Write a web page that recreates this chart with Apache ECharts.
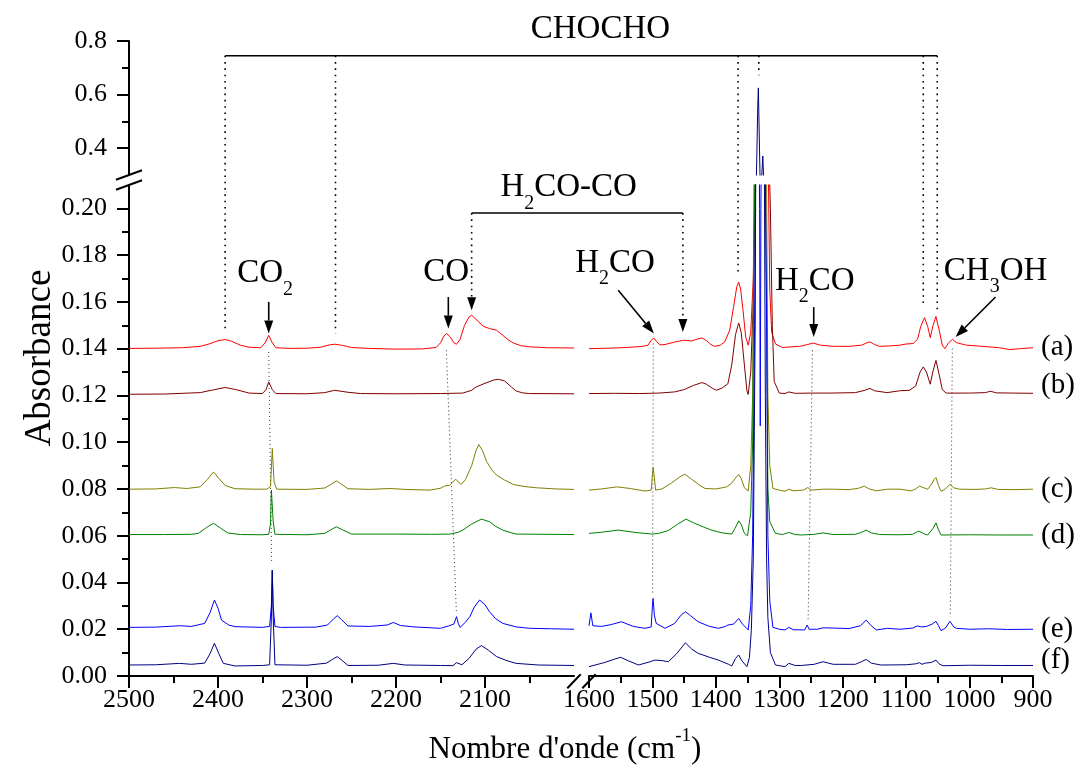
<!DOCTYPE html>
<html><head><meta charset="utf-8">
<script src="https://cdn.jsdelivr.net/npm/echarts@6/dist/echarts.min.js"></script>
<style>html,body{margin:0;padding:0;background:#fff}#c{width:1082px;height:778px}</style>
</head><body><div id="c"></div>
<script>
// ---------- tick values ----------
const xTicksHigh = [2500, 2400, 2300, 2200, 2100];
const xMinorHigh = [2450, 2350, 2250, 2150, 2050];
const xTicksLow = [1600, 1500, 1400, 1300, 1200, 1100, 1000, 900];
const xMinorLow = [1550, 1450, 1350, 1250, 1150, 1050, 950];
const yTicksBottom = [0, 0.02, 0.04, 0.06, 0.08, 0.10, 0.12, 0.14, 0.16, 0.18, 0.20];
const yMinorBottom = [0.01, 0.03, 0.05, 0.07, 0.09, 0.11, 0.13, 0.15, 0.17, 0.19];
const yTicksTop = [0.4, 0.6, 0.8];
const yMinorTop = [0.5, 0.7];

// ---------- samples ----------
const sampleLabels = ['(a)', '(b)', '(c)', '(d)', '(e)', '(f)'];
const sampleColors = ['#ff0000', '#800000', '#808000', '#008000', '#0000ff', '#000080'];
const sampleLabelValues = [0.1406, 0.1244, 0.0799, 0.0603, 0.0201, 0.0068];

// ---------- spectra: [wavenumber, absorbance] ----------
const specA_high = [[2500,0.1401],[2470,0.1402],[2440,0.1404],[2420,0.1410],[2410,0.1420],[2400,0.1434],[2392,0.1439],[2385,0.1432],[2375,0.1415],[2365,0.1406],[2352,0.1404],[2347,0.1425],[2343,0.1457],[2339,0.1425],[2335,0.1404],[2320,0.1401],[2300,0.1402],[2285,0.1406],[2275,0.1416],[2269,0.1419],[2260,0.1414],[2250,0.1405],[2230,0.1401],[2200,0.1398],[2170,0.1399],[2155,0.1405],[2150,0.1425],[2146,0.1455],[2143,0.1465],[2139,0.1450],[2135,0.1425],[2132,0.1419],[2128,0.1440],[2123,0.1500],[2118,0.1535],[2115,0.1543],[2110,0.1525],[2102,0.1496],[2095,0.1486],[2087,0.1479],[2080,0.1457],[2074,0.1438],[2068,0.1424],[2060,0.1413],[2050,0.1408],[2030,0.1404],[2000,0.1403]];
const specA_low = [[1600,0.1400],[1570,0.1402],[1540,0.1405],[1515,0.1410],[1507,0.1415],[1502,0.1435],[1498,0.1446],[1494,0.1432],[1488,0.1416],[1480,0.1418],[1465,0.1428],[1451,0.1436],[1438,0.1433],[1428,0.1442],[1422,0.1446],[1415,0.1435],[1408,0.1418],[1402,0.1410],[1393,0.1415],[1386,0.1429],[1378,0.1480],[1372,0.1580],[1367,0.1665],[1364,0.1685],[1361,0.1655],[1357,0.1560],[1353,0.1450],[1349,0.1415],[1345,0.1470],[1341,0.1700],[1338,0.2100],[1335,0.2600],[1330,0.2800],[1325,0.2800],[1320,0.2500],[1317,0.2100],[1315,0.1650],[1312,0.1470],[1306,0.1420],[1295,0.1405],[1280,0.1408],[1268,0.1410],[1255,0.1418],[1247,0.1424],[1235,0.1415],[1215,0.1410],[1190,0.1410],[1170,0.1415],[1162,0.1425],[1157,0.1429],[1150,0.1418],[1142,0.1410],[1125,0.1412],[1110,0.1415],[1100,0.1420],[1089,0.1422],[1082,0.1440],[1077,0.1495],[1071,0.1533],[1066,0.1495],[1062,0.1447],[1058,0.1495],[1053,0.1538],[1048,0.1480],[1043,0.1415],[1039,0.1400],[1033,0.1425],[1027,0.1440],[1020,0.1425],[1005,0.1415],[980,0.1410],[953,0.1404],[937,0.1396],[920,0.1400],[900,0.1404]];

const specB_high = [[2500,0.1205],[2460,0.1206],[2420,0.1212],[2405,0.1224],[2392,0.1234],[2380,0.1225],[2365,0.1210],[2350,0.1208],[2346,0.1225],[2343,0.1258],[2339,0.1225],[2335,0.1208],[2300,0.1207],[2280,0.1212],[2269,0.1222],[2255,0.1214],[2240,0.1208],[2200,0.1207],[2150,0.1208],[2125,0.1210],[2115,0.1222],[2110,0.1236],[2100,0.1252],[2090,0.1266],[2085,0.1269],[2078,0.1262],[2070,0.1235],[2065,0.1219],[2058,0.1211],[2050,0.1208],[2000,0.1207]];
const specB_low = [[1600,0.1208],[1560,0.1209],[1520,0.1208],[1490,0.1210],[1465,0.1215],[1450,0.1225],[1435,0.1243],[1422,0.1255],[1415,0.1248],[1405,0.1230],[1399,0.1222],[1390,0.1232],[1381,0.1250],[1375,0.1330],[1369,0.1460],[1364,0.1510],[1360,0.1470],[1355,0.1330],[1351,0.1220],[1349,0.1204],[1345,0.1300],[1341,0.1600],[1338,0.2100],[1335,0.2700],[1325,0.2800],[1318,0.2400],[1314,0.2000],[1311,0.1500],[1308,0.1260],[1300,0.1210],[1291,0.1208],[1285,0.1215],[1275,0.1209],[1250,0.1210],[1220,0.1210],[1180,0.1212],[1165,0.1222],[1157,0.1230],[1150,0.1220],[1130,0.1212],[1110,0.1220],[1095,0.1222],[1085,0.1240],[1078,0.1300],[1073,0.1322],[1068,0.1300],[1062,0.1248],[1058,0.1300],[1053,0.1350],[1048,0.1290],[1043,0.1225],[1037,0.1210],[1000,0.1210],[975,0.1212],[967,0.1218],[958,0.1211],[930,0.1210],[900,0.1209]];

const specC_high = [[2500,0.0799],[2470,0.0800],[2449,0.0806],[2435,0.0802],[2420,0.0809],[2412,0.0840],[2405,0.0873],[2399,0.0845],[2392,0.0815],[2381,0.0801],[2360,0.0799],[2345,0.0799],[2341,0.0810],[2339,0.0973],[2337,0.0830],[2334,0.0799],[2300,0.0798],[2280,0.0804],[2272,0.0822],[2267,0.0835],[2262,0.0822],[2254,0.0801],[2230,0.0798],[2207,0.0802],[2190,0.0798],[2162,0.0795],[2150,0.0803],[2145,0.0813],[2140,0.0815],[2133,0.0842],[2127,0.0819],[2122,0.0840],[2115,0.0900],[2110,0.0965],[2107,0.0990],[2103,0.0965],[2098,0.0916],[2092,0.0880],[2087,0.0859],[2078,0.0838],[2068,0.0819],[2055,0.0810],[2042,0.0805],[2020,0.0800],[2000,0.0798]];
const specC_low = [[1600,0.0795],[1580,0.0800],[1556,0.0809],[1535,0.0802],[1512,0.0791],[1502,0.0795],[1500,0.0860],[1499,0.0892],[1497,0.0850],[1495,0.0795],[1485,0.0800],[1470,0.0825],[1455,0.0855],[1449,0.0863],[1440,0.0845],[1425,0.0815],[1417,0.0802],[1400,0.0800],[1390,0.0805],[1383,0.0809],[1375,0.0825],[1368,0.0850],[1364,0.0862],[1360,0.0845],[1355,0.0805],[1349,0.0791],[1345,0.0900],[1342,0.1200],[1340,0.2100],[1336,0.2700],[1330,0.2800],[1324,0.2500],[1320,0.2100],[1318,0.1200],[1315,0.0900],[1310,0.0802],[1300,0.0795],[1291,0.0790],[1285,0.0799],[1278,0.0792],[1262,0.0795],[1255,0.0806],[1250,0.0795],[1230,0.0799],[1215,0.0799],[1190,0.0797],[1175,0.0803],[1166,0.0812],[1158,0.0800],[1147,0.0792],[1129,0.0799],[1110,0.0799],[1092,0.0792],[1085,0.0800],[1079,0.0812],[1072,0.0805],[1066,0.0799],[1060,0.0820],[1056,0.0840],[1053,0.0849],[1049,0.0815],[1045,0.0790],[1038,0.0800],[1031,0.0820],[1025,0.0805],[1016,0.0799],[990,0.0798],[975,0.0800],[966,0.0805],[955,0.0798],[930,0.0797],[900,0.0799]];

const specD_high = [[2500,0.0605],[2460,0.0605],[2430,0.0606],[2422,0.0610],[2413,0.0635],[2405,0.0653],[2397,0.0632],[2389,0.0612],[2375,0.0605],[2350,0.0604],[2343,0.0606],[2341,0.0650],[2340,0.0795],[2338,0.0660],[2336,0.0606],[2300,0.0604],[2280,0.0610],[2272,0.0628],[2267,0.0638],[2260,0.0625],[2250,0.0607],[2200,0.0607],[2160,0.0606],[2139,0.0607],[2130,0.0615],[2125,0.0624],[2115,0.0650],[2104,0.0671],[2095,0.0660],[2088,0.0640],[2080,0.0624],[2070,0.0612],[2065,0.0607],[2000,0.0605]];
const specD_low = [[1600,0.0610],[1580,0.0615],[1554,0.0624],[1530,0.0615],[1501,0.0607],[1490,0.0610],[1475,0.0622],[1460,0.0650],[1447,0.0671],[1435,0.0655],[1420,0.0638],[1407,0.0624],[1390,0.0612],[1375,0.0607],[1370,0.0630],[1364,0.0664],[1360,0.0648],[1355,0.0610],[1350,0.0600],[1345,0.0700],[1342,0.1000],[1340,0.1800],[1337,0.2500],[1330,0.2700],[1323,0.2300],[1320,0.1600],[1318,0.0800],[1315,0.0660],[1306,0.0610],[1295,0.0605],[1285,0.0614],[1275,0.0605],[1265,0.0603],[1245,0.0606],[1231,0.0612],[1215,0.0605],[1180,0.0606],[1170,0.0615],[1163,0.0624],[1155,0.0612],[1142,0.0605],[1110,0.0604],[1090,0.0606],[1080,0.0620],[1070,0.0606],[1066,0.0603],[1058,0.0630],[1053,0.0655],[1049,0.0625],[1045,0.0603],[1000,0.0604],[950,0.0603],[900,0.0603]];

const specE_high = [[2500,0.0208],[2470,0.0209],[2443,0.0215],[2430,0.0212],[2415,0.0225],[2409,0.0270],[2404,0.0325],[2400,0.0290],[2396,0.0239],[2388,0.0218],[2381,0.0211],[2350,0.0208],[2342,0.0212],[2340,0.0300],[2339,0.0450],[2338,0.0300],[2336,0.0212],[2330,0.0208],[2290,0.0209],[2277,0.0218],[2270,0.0245],[2266,0.0258],[2261,0.0240],[2254,0.0214],[2230,0.0212],[2210,0.0218],[2203,0.0229],[2195,0.0216],[2180,0.0210],[2150,0.0204],[2141,0.0214],[2135,0.0222],[2132,0.0254],[2130,0.0225],[2128,0.0208],[2122,0.0230],[2117,0.0254],[2112,0.0295],[2106,0.0325],[2100,0.0305],[2095,0.0275],[2088,0.0245],[2080,0.0225],[2065,0.0210],[2050,0.0204],[2025,0.0202],[2000,0.0200]];
const specE_low = [[1600,0.0215],[1597,0.0270],[1594,0.0215],[1580,0.0212],[1565,0.0220],[1549,0.0232],[1530,0.0212],[1512,0.0204],[1502,0.0210],[1500,0.0300],[1499,0.0332],[1497,0.0260],[1494,0.0225],[1480,0.0204],[1465,0.0225],[1455,0.0260],[1448,0.0275],[1440,0.0258],[1428,0.0232],[1410,0.0212],[1396,0.0204],[1385,0.0212],[1381,0.0218],[1372,0.0222],[1364,0.0246],[1358,0.0222],[1349,0.0197],[1345,0.0300],[1342,0.0600],[1339,0.1500],[1336,0.2600],[1333,0.2800],[1331,0.2000],[1330,0.1070],[1329,0.2000],[1327,0.2800],[1323,0.2500],[1320,0.1500],[1318,0.0600],[1315,0.0320],[1310,0.0208],[1300,0.0200],[1291,0.0197],[1285,0.0208],[1278,0.0198],[1260,0.0197],[1256,0.0218],[1253,0.0200],[1240,0.0200],[1231,0.0206],[1215,0.0205],[1190,0.0203],[1172,0.0215],[1163,0.0239],[1155,0.0215],[1147,0.0197],[1129,0.0204],[1110,0.0200],[1090,0.0205],[1082,0.0214],[1076,0.0210],[1068,0.0212],[1059,0.0222],[1053,0.0234],[1049,0.0215],[1045,0.0194],[1038,0.0205],[1031,0.0234],[1025,0.0210],[1021,0.0204],[1000,0.0200],[970,0.0202],[940,0.0199],[900,0.0200]];

const specF_high = [[2500,0.0047],[2470,0.0048],[2443,0.0054],[2430,0.0050],[2415,0.0055],[2409,0.0095],[2404,0.0140],[2399,0.0095],[2394,0.0054],[2381,0.0043],[2350,0.0045],[2342,0.0048],[2340,0.0250],[2339,0.0453],[2338,0.0250],[2336,0.0048],[2300,0.0046],[2278,0.0055],[2271,0.0072],[2266,0.0083],[2260,0.0065],[2254,0.0045],[2220,0.0046],[2203,0.0054],[2190,0.0047],[2150,0.0045],[2136,0.0044],[2132,0.0057],[2126,0.0048],[2118,0.0075],[2110,0.0115],[2104,0.0130],[2096,0.0110],[2087,0.0083],[2075,0.0065],[2065,0.0054],[2040,0.0047],[2000,0.0045]];
const specF_low = [[1600,0.0040],[1575,0.0058],[1560,0.0072],[1550,0.0080],[1538,0.0065],[1522,0.0047],[1505,0.0060],[1496,0.0068],[1485,0.0066],[1475,0.0061],[1462,0.0095],[1448,0.0142],[1438,0.0115],[1428,0.0097],[1410,0.0080],[1396,0.0068],[1380,0.0050],[1375,0.0043],[1369,0.0075],[1364,0.0090],[1359,0.0065],[1351,0.0040],[1347,0.0080],[1344,0.0200],[1341,0.0500],[1338,0.1500],[1336,0.3000],[1334,0.5500],[1333,0.6250],[1332,0.5000],[1330,0.2500],[1328,0.2800],[1326,0.3710],[1324,0.2500],[1322,0.1200],[1320,0.0500],[1318,0.0250],[1314,0.0100],[1306,0.0047],[1291,0.0040],[1285,0.0054],[1275,0.0045],[1265,0.0045],[1245,0.0050],[1231,0.0061],[1215,0.0050],[1180,0.0050],[1170,0.0062],[1163,0.0071],[1155,0.0055],[1140,0.0047],[1100,0.0048],[1085,0.0052],[1079,0.0057],[1075,0.0050],[1070,0.0055],[1060,0.0058],[1053,0.0068],[1048,0.0052],[1042,0.0044],[1000,0.0046],[950,0.0045],[900,0.0045]];

const spectraHigh = [specA_high, specB_high, specC_high, specD_high, specE_high, specF_high];
const spectraLow = [specA_low, specB_low, specC_low, specD_low, specE_low, specF_low];

// ---------- annotation anchors (data units) ----------
const chochoLevel = 0.745;
const chochoText = ['CHOCHO', 1582, 0.845];
const chochoMarks = [['hi', 2392, 'B', 0.1471], ['hi', 2268, 'B', 0.1466], ['lo', 1365, 'B', 0.1714], ['lo', 1332.3, 'T', 0.672], ['lo', 1073, 'B', 0.1578], ['lo', 1051, 'B', 0.1567]];
const h2coCoLevel = 0.198;
const h2coCoMarks = [['hi', 2115, 0.1620, 0.1564], ['lo', 1452, 0.1520, 0.1471]];
const arrows = [
  ['hi', 2343, 0.1600, 2343, 0.1465],
  ['hi', 2141.2, 0.1621, 2141.2, 0.1486],
  ['lo', 1553.9, 0.1650, 1497.6, 0.1465],
  ['lo', 1245.7, 0.1578, 1245.7, 0.1450],
  ['lo', 959, 0.1621, 1022, 0.1450]
];
const guides = [
  ['hi', 2343, 0.1386, 2339.7, 0.0482],
  ['hi', 2143.4, 0.1393, 2132.1, 0.0265],
  ['lo', 1498.7, 0.1422, 1499.7, 0.0353],
  ['lo', 1247.7, 0.1393, 1254.6, 0.0235],
  ['lo', 1027.2, 0.1400, 1030.4, 0.0253]
];
const annotTexts = [
  ['hi', 2347, 0.1722, '{m|CO}{s|2}'],
  ['hi', 2143.7, 0.1728, '{m|CO}'],
  ['hi', 2006, 0.2090, '{m|H}{s|2}{m|CO-CO}'],
  ['lo', 1559, 0.1767, '{m|H}{s|2}{m|CO}'],
  ['lo', 1244, 0.1690, '{m|H}{s|2}{m|CO}'],
  ['lo', 959, 0.1732, '{m|CH}{s|3}{m|OH}']
];

const serif = '"Liberation Serif","DejaVu Serif",serif';
const chart = echarts.init(document.getElementById('c'));

function xMain(gi, min, max, ticks) {
  return {type: 'value', gridIndex: gi, min, max, inverse: true, position: 'bottom',
    axisLine: {show: true, onZero: false, lineStyle: {color: '#000', width: 2}},
    axisTick: {show: true, inside: false, length: 12, customValues: ticks, lineStyle: {color: '#000', width: 2}},
    axisLabel: {show: true, customValues: ticks, margin: 11, color: '#000', fontFamily: serif, fontSize: 26,
      formatter: v => String(v)},
    splitLine: {show: false}};
}
function xMinor(gi, min, max, ticks) {
  return {type: 'value', gridIndex: gi, min, max, inverse: true, position: 'bottom',
    axisLine: {show: false, onZero: false},
    axisTick: {show: true, inside: false, length: 7, customValues: ticks, lineStyle: {color: '#000', width: 2}},
    axisLabel: {show: false}, splitLine: {show: false}};
}
function yMain(gi, min, max, ticks, dec) {
  return {type: 'value', gridIndex: gi, min, max, position: 'left',
    axisLine: {show: true, onZero: false, lineStyle: {color: '#000', width: 2}},
    axisTick: {show: true, inside: false, length: 12, customValues: ticks, lineStyle: {color: '#000', width: 2}},
    axisLabel: {show: true, customValues: ticks, margin: 22, color: '#000', fontFamily: serif, fontSize: 26,
      formatter: v => Number(v).toFixed(dec)},
    splitLine: {show: false}};
}
function yMinor(gi, min, max, ticks) {
  return {type: 'value', gridIndex: gi, min, max, position: 'left',
    axisLine: {show: false, onZero: false},
    axisTick: {show: true, inside: false, length: 7, customValues: ticks, lineStyle: {color: '#000', width: 2}},
    axisLabel: {show: false}, splitLine: {show: false}};
}
function hidden(gi, min, max, inv) {
  return {type: 'value', gridIndex: gi, min, max, inverse: !!inv, show: false, splitLine: {show: false}};
}

const series = [];
spectraHigh.forEach((d, i) => {
  series.push({type: 'line', data: d, xAxisIndex: 0, yAxisIndex: 0});
  series.push({type: 'line', data: d, xAxisIndex: 4, yAxisIndex: 3});
  series.push({type: 'line', data: spectraLow[i], xAxisIndex: 2, yAxisIndex: 2});
  series.push({type: 'line', data: spectraLow[i], xAxisIndex: 5, yAxisIndex: 5});
});
series.forEach((s, k) => {
  const i = Math.floor(k / 4);
  Object.assign(s, {showSymbol: false, symbol: 'none', clip: true, silent: true,
    lineStyle: {color: sampleColors[i], width: 1}, itemStyle: {color: sampleColors[i]}});
});

chart.setOption({
  animation: false,
  backgroundColor: '#fff',
  grid: [
    {left: 129, top: 185, width: 445, height: 491},
    {left: 589, top: 185, width: 444, height: 491},
    {left: 129, top: 41, width: 445, height: 134},
    {left: 589, top: 41, width: 444, height: 134}
  ],
  xAxis: [
    xMain(0, 2000, 2500, xTicksHigh), xMinor(0, 2000, 2500, xMinorHigh),
    xMain(1, 900, 1600, xTicksLow), xMinor(1, 900, 1600, xMinorLow),
    hidden(2, 2000, 2500, true), hidden(3, 900, 1600, true)
  ],
  yAxis: [
    yMain(0, 0, 0.21, yTicksBottom, 2), yMinor(0, 0, 0.21, yMinorBottom),
    hidden(1, 0, 0.21),
    yMain(2, 0.3, 0.8, yTicksTop, 1), yMinor(2, 0.3, 0.8, yMinorTop),
    hidden(3, 0.3, 0.8)
  ],
  series
});

// ---------- annotations placed through the axes ----------
const F = {hiB: {xAxisIndex: 0, yAxisIndex: 0}, loB: {xAxisIndex: 2, yAxisIndex: 2},
           hiT: {xAxisIndex: 4, yAxisIndex: 3}, loT: {xAxisIndex: 5, yAxisIndex: 5}};
const P = (seg, panel, wn, v) => chart.convertToPixel(F[seg + panel], [wn, v]);
const g = [];
const line = (a, b, w, dash, color) => g.push({type: 'line', silent: true,
  shape: {x1: a[0], y1: a[1], x2: b[0], y2: b[1]},
  style: {stroke: color || '#000', lineWidth: w, lineDash: dash || null}});
const head = (tip, from, len, half) => {
  const dx = tip[0] - from[0], dy = tip[1] - from[1], L = Math.hypot(dx, dy);
  const ux = dx / L, uy = dy / L;
  const bx = tip[0] - ux * len, by = tip[1] - uy * len;
  g.push({type: 'polygon', silent: true, shape: {points: [tip, [bx - uy * half, by + ux * half], [bx + uy * half, by - ux * half]]}, style: {fill: '#000'}});
  return [bx, by];
};
const richStyle = {
  m: {fontSize: 33, fontFamily: serif, lineHeight: 52},
  s: {fontSize: 20, fontFamily: serif, lineHeight: 52, verticalAlign: 'bottom'}
};
const text = (pt, str) => g.push({type: 'text', silent: true, x: pt[0], y: pt[1],
  style: {text: str, fill: '#000', align: 'center', verticalAlign: 'middle', fontFamily: serif, fontSize: 33, rich: richStyle}});

const dotDash = [1.6, 4.7];
const cL = P(chochoMarks[0][0], 'T', chochoMarks[0][1], chochoLevel);
const cR = P(chochoMarks[5][0], 'T', chochoMarks[5][1], chochoLevel);
line(cL, cR, 1.5);
chochoMarks.forEach(m => {
  const top = P(m[0], 'T', m[1], chochoLevel);
  const bot = P(m[0], m[2], m[1], m[3]);
  line(top, bot, 1.6, dotDash);
});
text(P('lo', 'T', chochoText[1], chochoText[2]), '{m|' + chochoText[0] + '}');

const hL = P(h2coCoMarks[0][0], 'B', h2coCoMarks[0][1], h2coCoLevel);
const hR = P(h2coCoMarks[1][0], 'B', h2coCoMarks[1][1], h2coCoLevel);
line(hL, hR, 1.5);
h2coCoMarks.forEach(m => {
  const top = P(m[0], 'B', m[1], h2coCoLevel);
  const tip = P(m[0], 'B', m[1], m[3]);
  const base = head(tip, top, 13, 4.5);
  line(top, base, 1.6, dotDash);
});

arrows.forEach(a => {
  const s = P(a[0], 'B', a[1], a[2]);
  const t = P(a[0], 'B', a[3], a[4]);
  const base = head(t, s, 13, 4.5);
  line(s, base, 1.6);
});

guides.forEach(d => line(P(d[0], 'B', d[1], d[2]), P(d[0], 'B', d[3], d[4]), 1, [1, 3], '#333'));

annotTexts.forEach(t => text(P(t[0], 'B', t[1], t[2]), t[3]));

sampleLabels.forEach((lab, i) => {
  const p = P('lo', 'B', 900, sampleLabelValues[i]);
  g.push({type: 'text', silent: true, x: p[0] + 8, y: p[1],
    style: {text: lab, fill: '#000', align: 'left', verticalAlign: 'middle', fontFamily: serif, fontSize: 29}});
});

const yb1 = P('hi', 'B', 2500, 0.21), yb2 = P('hi', 'T', 2500, 0.3);
[yb1, yb2].forEach(p => line([p[0] - 13, p[1] + 4.7], [p[0] + 13, p[1] - 4.7], 2));
const xb1 = P('hi', 'B', 2000, 0), xb2 = P('lo', 'B', 1600, 0);
[xb1, xb2].forEach(p => line([p[0] - 6.7, p[1] + 12.3], [p[0] + 6.7, p[1] - 1.7], 2));

g.push({type: 'text', silent: true, x: 40, y: 358, rotation: Math.PI / 2,
  style: {text: 'Absorbance', fill: '#000', align: 'center', verticalAlign: 'middle', fontFamily: serif, fontSize: 37}});
g.push({type: 'text', silent: true, x: 565, y: 750,
  style: {text: "{m|Nombre d'onde (cm}{u|-1}{m|)}", fill: '#000', align: 'center', verticalAlign: 'middle', fontFamily: serif, fontSize: 31,
    rich: {m: {fontSize: 31, fontFamily: serif, lineHeight: 46}, u: {fontSize: 19, fontFamily: serif, lineHeight: 46, verticalAlign: 'top'}}}});

chart.setOption({graphic: g});
</script></body></html>
